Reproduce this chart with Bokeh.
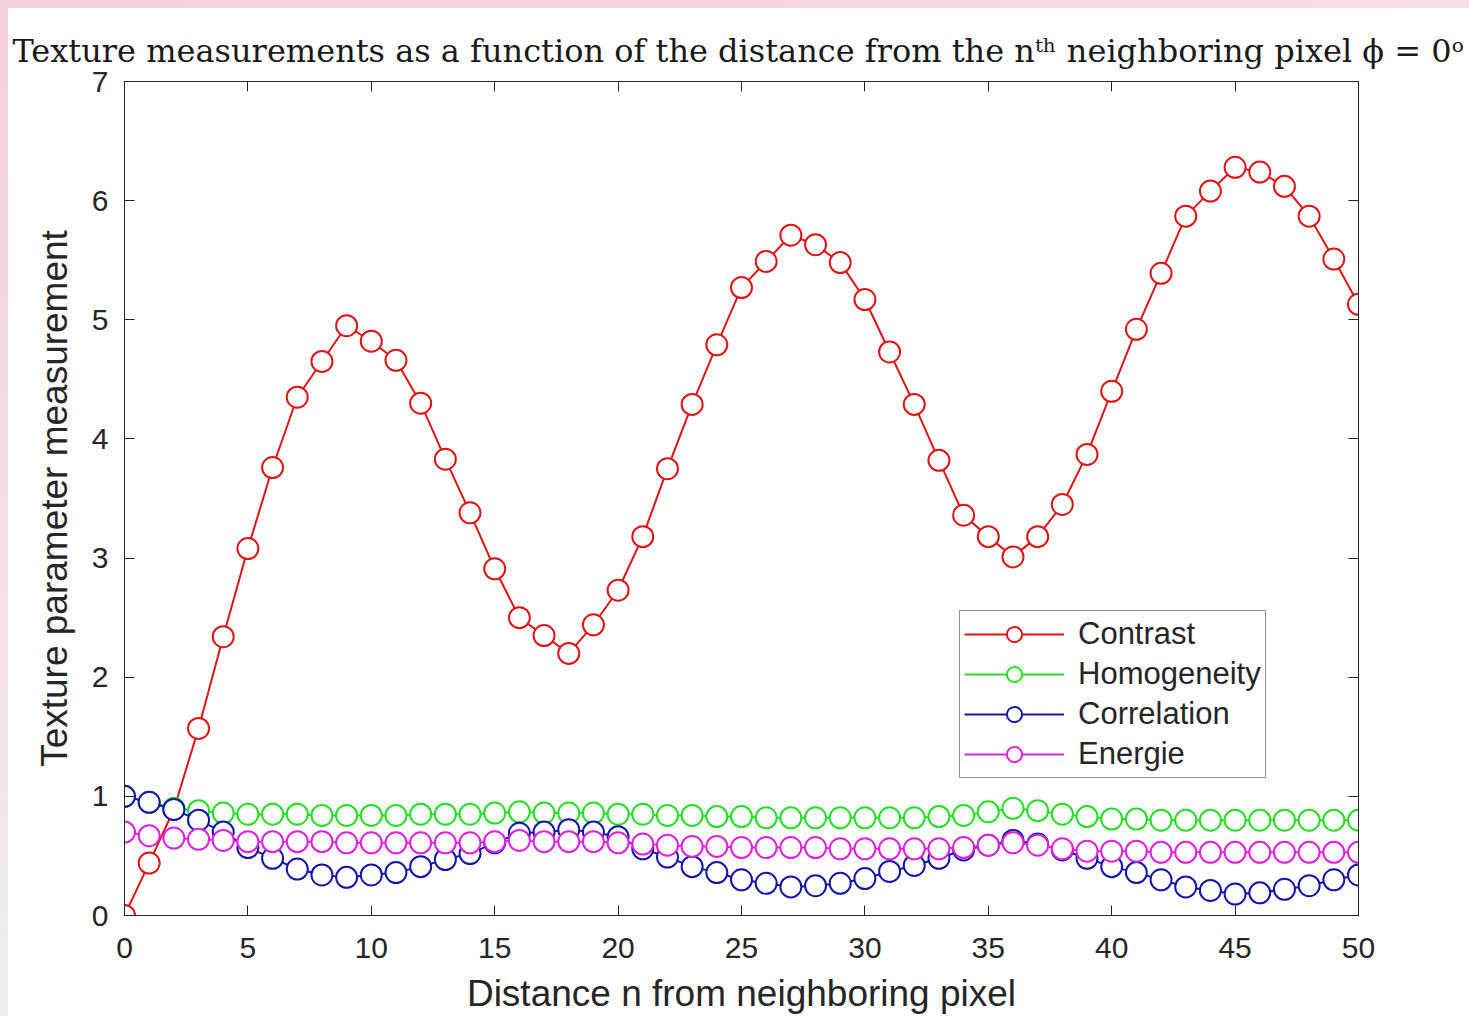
from bokeh.plotting import figure
from bokeh.models import LinearAxis, Range1d, Legend, LegendItem, FixedTicker, Div
from bokeh.layouts import column, row
from bokeh.embed import file_html
from bokeh.resources import INLINE

distance = list(range(51))
contrast = [0.00, 0.44, 0.89, 1.57, 2.34, 3.08, 3.76, 4.35, 4.65, 4.95,
            4.82, 4.66, 4.30, 3.83, 3.38, 2.91, 2.50, 2.35, 2.20, 2.44,
            2.73, 3.18, 3.75, 4.29, 4.79, 5.27, 5.49, 5.71, 5.63, 5.48,
            5.17, 4.73, 4.29, 3.82, 3.36, 3.18, 3.01, 3.18, 3.45, 3.87,
            4.40, 4.92, 5.39, 5.87, 6.08, 6.28, 6.24, 6.12, 5.87, 5.51,
            5.13]
homogeneity = [1.00, 0.95, 0.90, 0.88, 0.86, 0.85, 0.85, 0.85, 0.84, 0.84,
               0.84, 0.84, 0.85, 0.85, 0.85, 0.86, 0.87, 0.86, 0.86, 0.86,
               0.85, 0.85, 0.84, 0.84, 0.83, 0.83, 0.82, 0.82, 0.82, 0.82,
               0.82, 0.82, 0.82, 0.83, 0.84, 0.87, 0.90, 0.88, 0.85, 0.83,
               0.81, 0.81, 0.80, 0.80, 0.80, 0.80, 0.80, 0.80, 0.80, 0.80,
               0.80]
correlation = [1.00, 0.95, 0.89, 0.80, 0.70, 0.57, 0.48, 0.39, 0.34, 0.32,
               0.34, 0.36, 0.41, 0.47, 0.52, 0.61, 0.69, 0.70, 0.72, 0.70,
               0.66, 0.56, 0.49, 0.41, 0.36, 0.30, 0.27, 0.24, 0.25, 0.27,
               0.31, 0.37, 0.42, 0.48, 0.55, 0.59, 0.63, 0.60, 0.55, 0.48,
               0.41, 0.36, 0.30, 0.24, 0.21, 0.18, 0.19, 0.22, 0.25, 0.30,
               0.34]
energie = [0.70, 0.67, 0.65, 0.64, 0.63, 0.62, 0.62, 0.62, 0.62, 0.61,
           0.61, 0.61, 0.61, 0.61, 0.61, 0.62, 0.63, 0.62, 0.62, 0.62,
           0.61, 0.60, 0.59, 0.58, 0.58, 0.57, 0.57, 0.57, 0.57, 0.56,
           0.56, 0.56, 0.56, 0.56, 0.57, 0.59, 0.61, 0.59, 0.56, 0.54,
           0.54, 0.54, 0.53, 0.53, 0.53, 0.53, 0.53, 0.53, 0.53, 0.53,
           0.53]

series_names = ["Contrast", "Homogeneity", "Correlation", "Energie"]
series_colors = ["#dd1515", "#22e022", "#1515a8", "#e020e0"]
x_ticks = [0, 5, 10, 15, 20, 25, 30, 35, 40, 45, 50]
y_ticks = [0, 1, 2, 3, 4, 5, 6, 7]

title_text = "Texture measurements as a function of the distance from the n\u1d57\u02b0 neighboring pixel \u03d5 = 0\u1d52"
x_label = "Distance n from neighboring pixel"
y_label = "Texture parameter measurement"

AX = "#262626"
SANS = "Liberation Sans"

p = figure(width=1461, height=1008, x_range=Range1d(0, 50), y_range=Range1d(0, 7),
           output_backend="svg", toolbar_location=None,
           min_border_left=116, min_border_right=111, min_border_top=73, min_border_bottom=94,
           x_axis_label=x_label, y_axis_label=y_label)
p.xgrid.visible = False
p.ygrid.visible = False
p.outline_line_color = AX
p.outline_line_width = 1
p.background_fill_color = "white"
p.border_fill_color = "white"

p.title.text = title_text
p.title.text_font = "DejaVu Serif"
p.title.text_font_size = "32px"
p.title.text_font_style = "normal"
p.title.text_color = "#1a1a1a"
p.title.align = "left"
p.title.offset = -112
p.title.standoff = 23


def style_axis(ax, show_labels=True):
    ax.axis_line_color = AX
    ax.axis_line_width = 1
    ax.major_tick_line_color = AX
    ax.major_tick_in = 10
    ax.major_tick_out = 0
    ax.minor_tick_in = 0
    ax.minor_tick_out = 0
    ax.major_label_text_font = SANS
    ax.major_label_text_color = AX if show_labels else None
    ax.major_label_text_font_size = "30px" if show_labels else "1px"
    ax.major_label_standoff = 10 if show_labels else 0
    ax.axis_label_text_font = SANS
    ax.axis_label_text_font_size = "37px"
    ax.axis_label_text_font_style = "normal"
    ax.axis_label_text_color = AX


p.xaxis.ticker = FixedTicker(ticks=x_ticks)
p.yaxis.ticker = FixedTicker(ticks=y_ticks)
style_axis(p.xaxis[0])
style_axis(p.yaxis[0])
p.xaxis.major_label_standoff = 22
p.xaxis.axis_label_standoff = 12
p.yaxis.major_label_standoff = 16
p.yaxis.axis_label_standoff = 14

top = LinearAxis(ticker=FixedTicker(ticks=x_ticks))
style_axis(top, show_labels=False)
p.add_layout(top, "above")
right = LinearAxis(ticker=FixedTicker(ticks=y_ticks))
style_axis(right, show_labels=False)
p.add_layout(right, "right")

items = []
for name, ys, col in zip(series_names, [contrast, homogeneity, correlation, energie], series_colors):
    ln = p.line(distance, ys, line_color=col, line_width=2)
    sc = p.scatter(distance, ys, marker="circle", size=21, line_color=col, line_width=2,
                   fill_color="white")
    items.append(LegendItem(label=name, renderers=[ln, sc]))

legend = Legend(items=items, location=(835, 137))
legend.glyph_width = 100
legend.glyph_height = 38
legend.label_height = 38
legend.spacing = 2
legend.padding = 4
legend.margin = 0
legend.label_standoff = 14
legend.label_text_font = SANS
legend.label_text_font_size = "31px"
legend.label_text_color = AX
legend.border_line_color = AX
legend.border_line_width = 1
legend.background_fill_color = "white"
legend.background_fill_alpha = 1
p.add_layout(legend, "center")

strip_top = Div(text="", width=1469, height=8, margin=0,
                styles={"background": "linear-gradient(to right, #f4cfd6, #f8dde2)"})
strip_left = Div(text="", width=8, height=1008, margin=0,
                 styles={"background": "linear-gradient(to bottom, #f4cfd6, #f3e4e7 70%, #eeeeee)"})
page = column(strip_top, row(strip_left, p, spacing=0), spacing=0)

open("out.html", "w").write(file_html(page, INLINE))
